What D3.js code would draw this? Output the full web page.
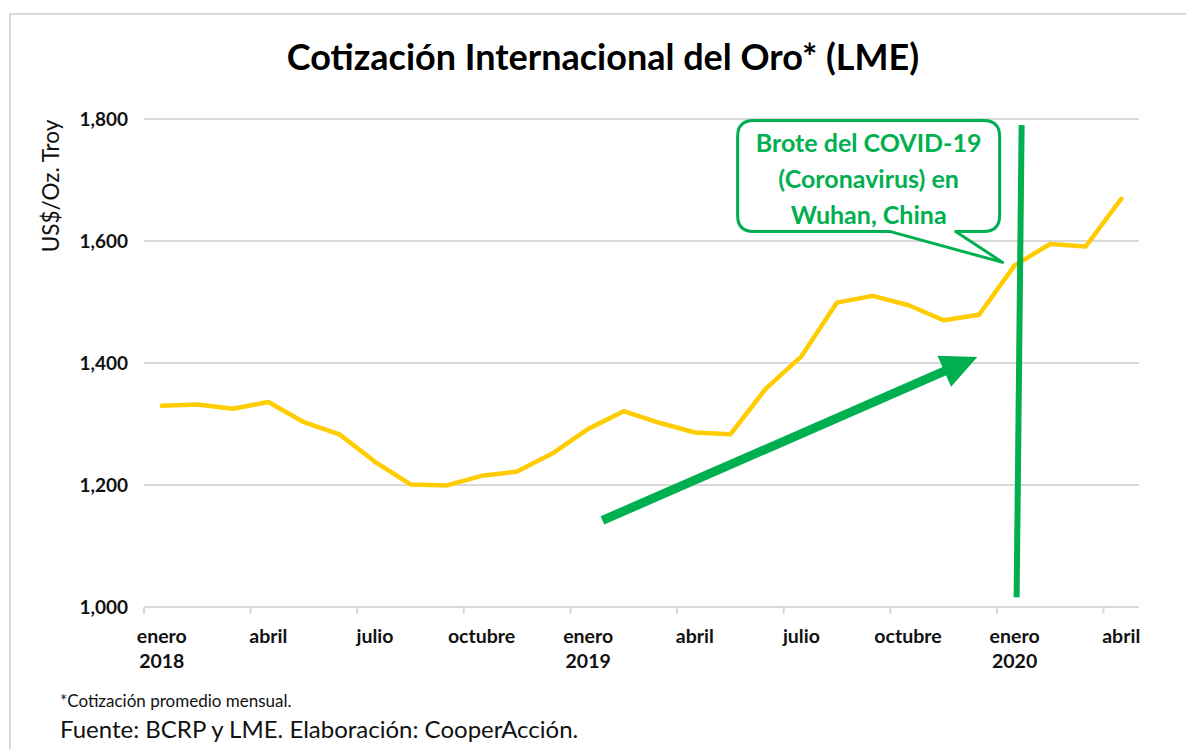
<!DOCTYPE html>
<html>
<head>
<meta charset="utf-8">
<script src="https://cdn.jsdelivr.net/npm/d3@7"></script>
<style>
  body { margin: 0; background: #fff; }
  svg text { font-family: Lato, "Open Sans", sans-serif; }
</style>
</head>
<body>
<div id="chart"></div>
<script>
// Cotización internacional del oro, promedio mensual (US$/Oz. Troy)
const months = ["ene18","feb18","mar18","abr18","may18","jun18","jul18","ago18","sep18","oct18","nov18","dic18",
                "ene19","feb19","mar19","abr19","may19","jun19","jul19","ago19","sep19","oct19","nov19","dic19",
                "ene20","feb20","mar20","abr20"];
const prices = [1330, 1332, 1325, 1336, 1303, 1283, 1238, 1201, 1199, 1215, 1222, 1252,
                1292, 1321, 1302, 1286, 1283, 1358, 1411, 1499, 1510, 1495, 1470, 1479,
                1560, 1595, 1591, 1669];
const tickLabels = [["enero","2018"],["abril",""],["julio",""],["octubre",""],
                    ["enero","2019"],["abril",""],["julio",""],["octubre",""],
                    ["enero","2020"],["abril",""]];
const yTicks = [1000, 1200, 1400, 1600, 1800];

const width = 1186, height = 749;
const margin = { top: 119, right: 47, bottom: 142, left: 144 };

const svg = d3.select("#chart").append("svg")
    .attr("width", width)
    .attr("height", height);

// frame (top and left edge of the pasted chart)
svg.append("path")
    .attr("d", `M10,${height} V14 H${width}`)
    .attr("fill", "none")
    .attr("stroke", "#d9d9d9")
    .attr("stroke-width", 2);

let x = d3.scaleBand()
    .domain(months)
    .range([margin.left, width - margin.right]);

let y = d3.scaleLinear()
    .domain([1000, 1800])
    .range([height - margin.bottom, margin.top]);

const xc = d => x(d) + x.bandwidth() / 2;
// index based scale, used to place the annotations
let xi = d3.scaleLinear()
    .domain([0, months.length - 1])
    .range([xc(months[0]), xc(months[months.length - 1])]);

// gridlines
svg.append("g")
    .selectAll("line")
    .data(yTicks.slice(1))
    .join("line")
    .attr("x1", margin.left)
    .attr("x2", width - margin.right)
    .attr("y1", d => y(d))
    .attr("y2", d => y(d))
    .attr("stroke", "#d9d9d9")
    .attr("stroke-width", 2);

// x axis line and ticks every 3 months
const y0 = y(1000);
svg.append("line")
    .attr("x1", margin.left).attr("x2", width - margin.right)
    .attr("y1", y0).attr("y2", y0)
    .attr("stroke", "#d9d9d9").attr("stroke-width", 2);

const tickMonths = months.filter((d, i) => i % 3 === 0);
svg.append("g")
    .selectAll("line")
    .data(tickMonths)
    .join("line")
    .attr("x1", d => x(d)).attr("x2", d => x(d))
    .attr("y1", y0).attr("y2", y0 + 7)
    .attr("stroke", "#d9d9d9").attr("stroke-width", 2);

const xlab = svg.append("g")
    .selectAll("text")
    .data(tickMonths)
    .join("text")
    .attr("x", d => xc(d))
    .attr("text-anchor", "middle")
    .attr("font-size", "19.5px")
    .attr("font-weight", "bold")
    .attr("fill", "#111");
xlab.append("tspan").attr("x", d => xc(d)).attr("y", 643)
    .text((d, i) => tickLabels[i][0]);
xlab.append("tspan").attr("x", d => xc(d)).attr("y", 668)
    .text((d, i) => tickLabels[i][1]);

// y tick labels
svg.append("g")
    .selectAll("text")
    .data(yTicks)
    .join("text")
    .attr("x", 128)
    .attr("y", d => y(d))
    .attr("dy", "0.36em")
    .attr("text-anchor", "end")
    .attr("font-size", "19px")
    .attr("font-weight", "bold")
    .attr("fill", "#111")
    .text(d => d3.format(",")(d));

svg.append("text")
    .attr("transform", "translate(59,186) rotate(-90)")
    .attr("text-anchor", "middle")
    .attr("font-size", "22.5px")
    .attr("fill", "#111")
    .text("US$/Oz. Troy");

// title
svg.append("text")
    .attr("x", 603)
    .attr("y", 70)
    .attr("text-anchor", "middle")
    .attr("font-size", "36px")
    .attr("font-weight", "bold")
    .attr("fill", "#000")
    .text("Cotización Internacional del Oro* (LME)");

// price line
const line = d3.line()
    .x((d, i) => xc(months[i]))
    .y(d => y(d));

svg.append("path")
    .datum(prices)
    .attr("d", line)
    .attr("fill", "none")
    .attr("stroke", "#ffcc00")
    .attr("stroke-width", 4.5)
    .attr("stroke-linejoin", "round")
    .attr("stroke-linecap", "round");

// annotations
const green = "#00b050";

// vertical line at enero 2020
const iJan20 = months.indexOf("ene20");
svg.append("line")
    .attr("x1", xi(iJan20) + 7).attr("y1", y(1790))
    .attr("x2", xi(iJan20) + 2).attr("y2", y(1016))
    .attr("stroke", green).attr("stroke-width", 6);

// trend arrow
const a0 = [xi(12.4), y(1142)], a1 = [xi(22.95), y(1410)];
const ang = Math.atan2(a1[1] - a0[1], a1[0] - a0[0]);
const headL = 36, headW = 17;
const base = [a1[0] - headL * Math.cos(ang), a1[1] - headL * Math.sin(ang)];
svg.append("line")
    .attr("x1", a0[0]).attr("y1", a0[1])
    .attr("x2", base[0] + 2 * Math.cos(ang)).attr("y2", base[1] + 2 * Math.sin(ang))
    .attr("stroke", green).attr("stroke-width", 9);
svg.append("path")
    .attr("d", d3.line()([
        a1,
        [base[0] + headW * Math.sin(ang), base[1] - headW * Math.cos(ang)],
        [base[0] - headW * Math.sin(ang), base[1] + headW * Math.cos(ang)]
    ]) + "Z")
    .attr("fill", green);

// callout box pointing at the enero 2020 price
const tip = [xi(iJan20) - 12, y(prices[iJan20]) - 3];
const bx0 = tip[0] - 265, bx1 = tip[0] - 3, by0 = tip[1] - 142, by1 = tip[1] - 31, r = 16;
const t1 = bx0 + 152, t2 = bx0 + 218;
svg.append("path")
    .attr("d", `M${bx0 + r},${by0} H${bx1 - r} Q${bx1},${by0} ${bx1},${by0 + r} V${by1 - r} Q${bx1},${by1} ${bx1 - r},${by1}
                H${t2} L${tip[0]},${tip[1]} L${t1},${by1} H${bx0 + r} Q${bx0},${by1} ${bx0},${by1 - r} V${by0 + r} Q${bx0},${by0} ${bx0 + r},${by0} Z`)
    .attr("fill", "#fff")
    .attr("stroke", green)
    .attr("stroke-width", 3)
    .attr("stroke-linejoin", "round");

svg.append("g")
    .selectAll("text")
    .data(["Brote del COVID-19", "(Coronavirus) en", "Wuhan, China"])
    .join("text")
    .attr("x", (bx0 + bx1) / 2)
    .attr("y", (d, i) => by0 + 32 + i * 36)
    .attr("text-anchor", "middle")
    .attr("font-size", "25px")
    .attr("font-weight", "bold")
    .attr("fill", green)
    .text(d => d);

// footnotes
svg.append("text")
    .attr("x", 60).attr("y", 707)
    .attr("font-size", "17px")
    .attr("fill", "#111")
    .text("*Cotización promedio mensual.");

svg.append("text")
    .attr("x", 60).attr("y", 738)
    .attr("font-size", "24px")
    .attr("fill", "#111")
    .text("Fuente: BCRP y LME. Elaboración: CooperAcción.");
</script>
</body>
</html>
